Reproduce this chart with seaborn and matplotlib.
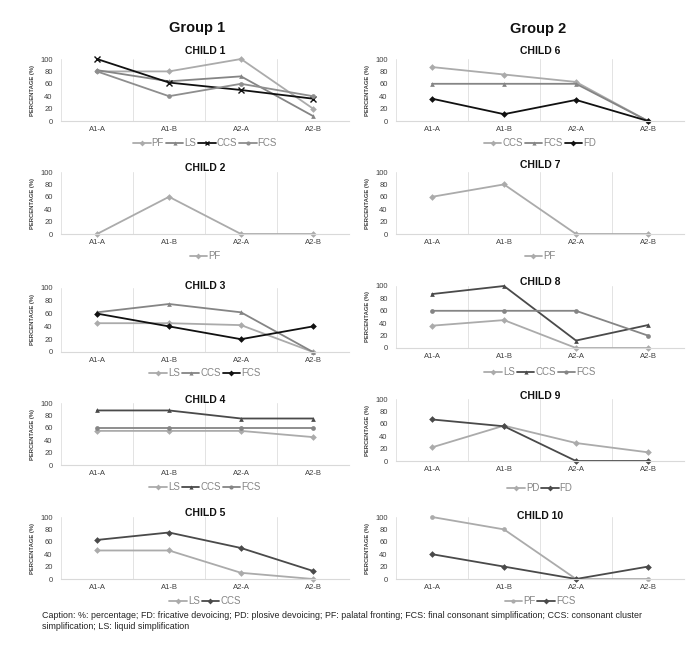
import matplotlib
matplotlib.use('Agg')
import matplotlib.pyplot as plt
import seaborn as sns
import pandas as pd
from matplotlib.lines import Line2D

sns.set_theme(style='white')
plt.rcParams['font.family'] = ['Liberation Sans', 'DejaVu Sans']

categories = ['A1-A', 'A1-B', 'A2-A', 'A2-B']
yticks = [0, 20, 40, 60, 80, 100]

# values (%) per child / process
child1 = {'PF': [80, 80, 100, 20], 'LS': [82, 64, 72, 8], 'CCS': [100, 62, 50, 36], 'FCS': [80, 40, 60, 40]}
child2 = {'PF': [0, 60, 0, 0]}
child3 = {'LS': [45, 45, 42, 0], 'CCS': [62, 75, 62, 0], 'FCS': [60, 40, 20, 40]}
child4 = {'LS': [55, 55, 55, 45], 'CCS': [88, 88, 75, 75], 'FCS': [60, 60, 60, 60]}
child5 = {'LS': [46, 46, 10, 0], 'CCS': [63, 75, 50, 13]}
child6 = {'CCS': [87, 75, 63, 0], 'FCS': [60, 60, 60, 0], 'FD': [36, 11, 34, 0]}
child7 = {'PF': [60, 80, 0, 0]}
child8 = {'LS': [36, 45, 0, 0], 'CCS': [87, 100, 12, 37], 'FCS': [60, 60, 60, 20]}
child9 = {'PD': [22, 57, 29, 14], 'FD': [67, 56, 0, 0]}
child10 = {'PF': [100, 80, 0, 0], 'FCS': [40, 20, 0, 20]}

LIGHT = '#ababab'
MID = '#858585'
DARK = '#4a4a4a'
BLACK = '#111111'

styles = {
    1: {'PF': (LIGHT, 'D'), 'LS': (MID, '^'), 'CCS': (BLACK, 'x'), 'FCS': ('#8e8e8e', 'o')},
    2: {'PF': (LIGHT, 'D')},
    3: {'LS': (LIGHT, 'D'), 'CCS': (MID, '^'), 'FCS': (BLACK, 'D')},
    4: {'LS': (LIGHT, 'D'), 'CCS': (DARK, '^'), 'FCS': (MID, 'o')},
    5: {'LS': (LIGHT, 'D'), 'CCS': (DARK, 'D')},
    6: {'CCS': (LIGHT, 'D'), 'FCS': (MID, '^'), 'FD': (BLACK, 'D')},
    7: {'PF': (LIGHT, 'D')},
    8: {'LS': (LIGHT, 'D'), 'CCS': (DARK, '^'), 'FCS': (MID, 'o')},
    9: {'PD': (LIGHT, 'D'), 'FD': (DARK, 'D')},
    10: {'PF': (LIGHT, 'o'), 'FCS': (DARK, 'D')},
}

data = {1: child1, 2: child2, 3: child3, 4: child4, 5: child5,
        6: child6, 7: child7, 8: child8, 9: child9, 10: child10}

W, H = 693, 665
fig = plt.figure(figsize=(W / 100, H / 100), dpi=100)

# pixel layout: (x-range, ytop(100), ybottom(0), title_y, legend_y)
LX = (61, 349)
RX = (396, 684)
layout = {
    1: (LX, 59, 121, 51, 143),
    2: (LX, 172, 234, 168, 256),
    3: (LX, 288, 352, 286, 373),
    4: (LX, 403, 465, 400, 487),
    5: (LX, 517, 579, 513, 601),
    6: (RX, 59, 121, 51, 143),
    7: (RX, 172, 234, 165, 256),
    8: (RX, 286, 348, 282, 372),
    9: (RX, 399, 461, 396, 488),
    10: (RX, 517, 579, 516, 601),
}

for k, (xr, yt, yb, ty, ly) in layout.items():
    x0, x1 = xr
    ax = fig.add_axes([x0 / W, 1 - yb / H, (x1 - x0) / W, (yb - yt) / H])
    handles = []
    for name, vals in data[k].items():
        col, mk = styles[k][name]
        df = pd.DataFrame({'x': categories, 'y': vals})
        kw = dict(markersize=3.4, markeredgewidth=0)
        if mk == 'x':
            kw = dict(markersize=4.2, markeredgewidth=1.0, markeredgecolor=col)
        sns.lineplot(data=df, x='x', y='y', ax=ax, color=col, marker=mk,
                     sort=False, errorbar=None, linewidth=1.3, clip_on=False, **kw)
        handles.append(Line2D([0], [0], color=col, marker=mk, lw=1.3,
                              markersize=3, markeredgewidth=1 if mk == 'x' else 0,
                              markeredgecolor=col, label=name))
    ax.set_xlim(-0.5, 3.5)
    ax.set_ylim(0, 100)
    ax.set_yticks(yticks)
    ax.set_xlabel('')
    ax.set_ylabel('PERCENTAGE (%)', fontsize=4.2, fontweight='bold', color='#404040', labelpad=4)
    for s in ['top', 'right', 'left']:
        ax.spines[s].set_visible(False)
    ax.spines['bottom'].set_color('#d9d9d9')
    ax.spines['bottom'].set_linewidth(0.8)
    for xv in [-0.5, 0.5, 1.5, 2.5, 3.5]:
        ax.axvline(xv, color='#e3e3e3', lw=0.7, zorder=0)
    ax.tick_params(axis='both', length=0, labelsize=5.5, colors='#404040')
    ax.tick_params(axis='x', pad=3.5)
    ax.tick_params(axis='y', pad=6)
    ax.set_facecolor('none')
    cx = (x0 + x1) / 2 / W
    fig.text(cx, 1 - ty / H, f'CHILD {k}', ha='center', va='center',
             fontsize=7.5, fontweight='bold', color='#111111')
    fig.legend(handles=handles, loc='center', bbox_to_anchor=(cx, 1 - ly / H),
               bbox_transform=fig.transFigure, ncol=len(handles), frameon=False,
               fontsize=7, labelcolor='#858585', handlelength=1.8,
               handletextpad=0.1, columnspacing=0.2, borderpad=0)

fig.text(197 / W, 1 - 28 / H, 'Group 1', ha='center', va='center',
         fontsize=10.5, fontweight='bold', color='#111111')
fig.text(538 / W, 1 - 29 / H, 'Group 2', ha='center', va='center',
         fontsize=10.5, fontweight='bold', color='#111111')

fig.text(42 / W, 1 - 611 / H,
         'Caption: %: percentage; FD: fricative devoicing; PD: plosive devoicing; PF: palatal fronting; '
         'FCS: final consonant simplification; CCS: consonant cluster\nsimplification; LS: liquid simplification',
         ha='left', va='top', fontsize=6.4, color='#222222', linespacing=1.3)

fig.savefig('out.png', dpi=100)
